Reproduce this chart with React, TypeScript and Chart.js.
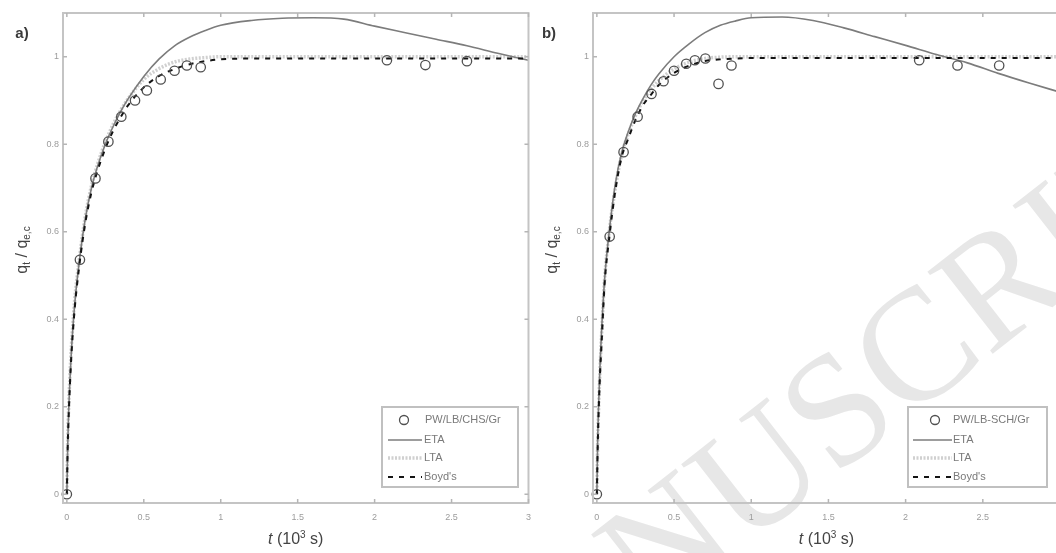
import React, { useEffect, useRef } from "react";
import { Chart, registerables } from "chart.js";

Chart.register(...registerables);

// ---------- data ----------
const modelTimes = [0, 0.005, 0.01, 0.02, 0.03, 0.05, 0.08, 0.12, 0.16, 0.2, 0.25, 0.3, 0.35, 0.4, 0.5, 0.6, 0.7, 0.8, 0.9, 1.0, 1.2, 1.4, 1.6, 1.8, 2.0, 2.2, 2.4, 2.6, 2.8, 3.0];

const etaA = [0, 0.10, 0.17, 0.26, 0.33, 0.43, 0.53, 0.63, 0.70, 0.75, 0.80, 0.84, 0.875, 0.905, 0.955, 0.995, 1.025, 1.045, 1.06, 1.072, 1.083, 1.088, 1.089, 1.086, 1.07, 1.055, 1.04, 1.025, 1.008, 0.992];
const ltaA = [0, 0.11, 0.18, 0.27, 0.34, 0.44, 0.535, 0.635, 0.705, 0.755, 0.805, 0.845, 0.878, 0.905, 0.948, 0.973, 0.988, 0.995, 0.998, 1.0, 1.0, 1.0, 1.0, 1.0, 1.0, 1.0, 1.0, 1.0, 1.0, 1.0];
const fullA = [0, 0.10, 0.16, 0.25, 0.32, 0.42, 0.52, 0.62, 0.69, 0.74, 0.79, 0.83, 0.862, 0.89, 0.93, 0.956, 0.972, 0.983, 0.99, 0.994, 0.996, 0.996, 0.996, 0.996, 0.996, 0.996, 0.996, 0.996, 0.996, 0.996];
const expTimesA = [0, 0.085, 0.186, 0.27, 0.354, 0.443, 0.52, 0.61, 0.70, 0.78, 0.87, 2.08, 2.33, 2.60];
const expValuesA = [0, 0.536, 0.722, 0.806, 0.863, 0.90, 0.923, 0.948, 0.968, 0.98, 0.976, 0.992, 0.981, 0.99];

const etaB = [0, 0.12, 0.19, 0.29, 0.37, 0.49, 0.60, 0.71, 0.78, 0.825, 0.87, 0.905, 0.935, 0.96, 1.0, 1.03, 1.055, 1.072, 1.082, 1.089, 1.091, 1.083, 1.066, 1.046, 1.026, 1.005, 0.986, 0.962, 0.94, 0.919];
const ltaB = [0, 0.11, 0.18, 0.28, 0.36, 0.49, 0.60, 0.70, 0.775, 0.82, 0.865, 0.90, 0.925, 0.945, 0.972, 0.988, 0.996, 0.999, 1.0, 1.0, 1.0, 1.0, 1.0, 1.0, 1.0, 1.0, 1.0, 1.0, 1.0, 1.0];
const fullB = [0, 0.10, 0.17, 0.27, 0.34, 0.48, 0.585, 0.695, 0.77, 0.81, 0.855, 0.89, 0.913, 0.935, 0.963, 0.98, 0.99, 0.994, 0.996, 0.997, 0.997, 0.997, 0.997, 0.997, 0.997, 0.997, 0.997, 0.997, 0.997, 0.997];
const expTimesB = [0, 0.083, 0.173, 0.264, 0.354, 0.432, 0.50, 0.579, 0.635, 0.703, 0.788, 0.872, 2.088, 2.336, 2.606];
const expValuesB = [0, 0.589, 0.782, 0.863, 0.915, 0.944, 0.968, 0.984, 0.992, 0.996, 0.938, 0.98, 0.992, 0.98, 0.98];

const xTickValues = [0, 0.5, 1, 1.5, 2, 2.5, 3];
const yTickValues = [0, 0.2, 0.4, 0.6, 0.8, 1];
const modelLabels = ["ETA", "LTA", "Boyd's"];
const sampleLabelA = "PW/LB/CHS/Gr";
const sampleLabelB = "PW/LB-SCH/Gr";
const panelTags = ["a)", "b)"];
const watermarkText = "ACCEPTED MANUSCRIPT";

// ---------- helpers ----------
const toPoints = (xs: number[], ys: number[]) => xs.map((x, i) => ({ x, y: ys[i] }));

type PanelCfg = {
  key: string;
  tag: string;
  sampleLabel: string;
  eta: number[];
  lta: number[];
  full: number[];
  expT: number[];
  expV: number[];
  canvasLeft: number;
  yAxisWidth: number;
  rightPad: number;
  legend: { x: number; y: number; w: number; h: number; markX: number; textX: number; lineX1: number; lineX2: number; lineTextX: number };
  tagPos: { x: number; y: number };
  yTitleX: number;
  watermark: boolean;
};

function drawRich(ctx: CanvasRenderingContext2D, parts: { t: string; size: number; dy: number; style?: string }[], family: string) {
  let w = 0;
  parts.forEach((p) => {
    ctx.font = `${p.style || ""} ${p.size}px ${family}`;
    w += ctx.measureText(p.t).width;
  });
  let x = -w / 2;
  parts.forEach((p) => {
    ctx.font = `${p.style || ""} ${p.size}px ${family}`;
    ctx.fillText(p.t, x, p.dy);
    x += ctx.measureText(p.t).width;
  });
}

function makePlugin(p: PanelCfg) {
  return {
    id: "deco" + p.key,
    beforeDraw(chart: any) {
      if (!p.watermark) return;
      const ctx = chart.ctx as CanvasRenderingContext2D;
      ctx.save();
      const ang = (-38 * Math.PI) / 180;
      ctx.font = "160px 'Liberation Serif', 'DejaVu Serif', serif";
      const pre = ctx.measureText("ACCEPTED MA").width;
      // baseline-left of the letter N (page coords)
      const nx = 652 - p.canvasLeft;
      const ny = 620;
      const sx = nx - Math.cos(ang) * pre;
      const sy = ny - Math.sin(ang) * pre;
      ctx.translate(sx, sy);
      ctx.rotate(ang);
      ctx.fillStyle = "#e7e7e7";
      ctx.textBaseline = "alphabetic";
      ctx.textAlign = "left";
      ctx.fillText(watermarkText, 0, 0);
      ctx.restore();
    },
    afterDraw(chart: any) {
      const ctx = chart.ctx as CanvasRenderingContext2D;
      const a = chart.chartArea;
      const xs = chart.scales.x;
      const ys = chart.scales.y;
      ctx.save();
      // frame
      ctx.strokeStyle = "#c4c4c4";
      ctx.lineWidth = 2;
      ctx.setLineDash([]);
      ctx.strokeRect(a.left, a.top, a.right - a.left, a.bottom - a.top);
      // inward ticks
      ctx.lineWidth = 1.5;
      ctx.strokeStyle = "#b5b5b5";
      xTickValues.forEach((v) => {
        const px = xs.getPixelForValue(v);
        ctx.beginPath();
        ctx.moveTo(px, a.bottom);
        ctx.lineTo(px, a.bottom - 4);
        ctx.moveTo(px, a.top);
        ctx.lineTo(px, a.top + 4);
        ctx.stroke();
      });
      yTickValues.forEach((v) => {
        const py = ys.getPixelForValue(v);
        ctx.beginPath();
        ctx.moveTo(a.left, py);
        ctx.lineTo(a.left + 4, py);
        ctx.moveTo(a.right, py);
        ctx.lineTo(a.right - 4, py);
        ctx.stroke();
      });

      // legend
      const L = p.legend;
      ctx.fillStyle = "#ffffff";
      ctx.fillRect(L.x, L.y, L.w, L.h);
      ctx.strokeStyle = "#c0c0c0";
      ctx.lineWidth = 2;
      ctx.strokeRect(L.x, L.y, L.w, L.h);
      const ds = chart.data.datasets;
      ctx.font = "11px 'Liberation Sans', Arial, sans-serif";
      ctx.textBaseline = "middle";
      ctx.textAlign = "left";
      const rowY = [L.y + 13, L.y + 33, L.y + 51, L.y + 70];
      ctx.beginPath();
      ctx.strokeStyle = ds[0].pointBorderColor;
      ctx.lineWidth = ds[0].pointBorderWidth;
      ctx.arc(L.markX, rowY[0], 4.5, 0, Math.PI * 2);
      ctx.stroke();
      ctx.fillStyle = "#7a7a7a";
      ctx.fillText(ds[0].label, L.textX, rowY[0]);
      const order = [2, 3, 1];
      order.forEach((di, k) => {
        const d = ds[di];
        const yy = rowY[k + 1];
        ctx.beginPath();
        ctx.strokeStyle = d.borderColor;
        ctx.lineWidth = d.borderWidth;
        ctx.setLineDash(d.borderDash || []);
        ctx.moveTo(L.lineX1, yy);
        ctx.lineTo(L.lineX2, yy);
        ctx.stroke();
        ctx.setLineDash([]);
        ctx.fillStyle = "#7a7a7a";
        ctx.fillText(d.label, L.lineTextX, yy);
      });

      // panel tag
      ctx.fillStyle = "#3a3a3a";
      ctx.font = "bold 15px 'Liberation Sans', Arial, sans-serif";
      ctx.textAlign = "center";
      ctx.fillText(p.tag, p.tagPos.x, p.tagPos.y);

      const fam = "'Liberation Sans', Arial, sans-serif";
      // x title
      ctx.save();
      ctx.translate((a.left + a.right) / 2, 540);
      ctx.fillStyle = "#444";
      ctx.textAlign = "left";
      ctx.textBaseline = "middle";
      drawRich(
        ctx,
        [
          { t: "t", size: 16, dy: 0, style: "italic" },
          { t: " (10", size: 16, dy: 0 },
          { t: "3", size: 10, dy: -5 },
          { t: " s)", size: 16, dy: 0 },
        ],
        fam
      );
      ctx.restore();

      // y title
      ctx.save();
      ctx.translate(p.yTitleX, 250);
      ctx.rotate(-Math.PI / 2);
      ctx.fillStyle = "#444";
      ctx.textAlign = "left";
      ctx.textBaseline = "middle";
      drawRich(
        ctx,
        [
          { t: "q", size: 16, dy: 0 },
          { t: "t", size: 10, dy: 4 },
          { t: " / ", size: 16, dy: 0 },
          { t: "q", size: 16, dy: 0 },
          { t: "e,c", size: 10, dy: 4 },
        ],
        fam
      );
      ctx.restore();
      ctx.restore();
    },
  };
}

function buildConfig(p: PanelCfg): any {
  return {
    type: "line",
    data: {
      datasets: [
        {
          label: p.sampleLabel,
          data: toPoints(p.expT, p.expV),
          showLine: false,
          pointRadius: 4.7,
          pointBorderColor: "#505050",
          pointBackgroundColor: "rgba(0,0,0,0)",
          pointBorderWidth: 1.3,
          clip: false,
        },
        {
          label: modelLabels[2],
          data: toPoints(modelTimes, p.full),
          borderColor: "#141414",
          borderWidth: 2,
          borderDash: [5, 6],
          pointRadius: 0,
          fill: false,
          cubicInterpolationMode: "monotone",
        },
        {
          label: modelLabels[0],
          data: toPoints(modelTimes, p.eta),
          borderColor: "#7c7c7c",
          borderWidth: 1.6,
          pointRadius: 0,
          fill: false,
          cubicInterpolationMode: "monotone",
        },
        {
          label: modelLabels[1],
          data: toPoints(modelTimes, p.lta),
          borderColor: "#d0d0d0",
          borderWidth: 3.5,
          borderDash: [2, 1.5],
          pointRadius: 0,
          fill: false,
          cubicInterpolationMode: "monotone",
        },
      ],
    },
    options: {
      animation: false,
      responsive: false,
      devicePixelRatio: 1,
      layout: { padding: { top: 13, right: p.rightPad, left: 0, bottom: 0 } },
      plugins: { legend: { display: false }, tooltip: { enabled: false } },
      scales: {
        x: {
          type: "linear",
          min: -0.025,
          max: 3,
          grid: { display: false, drawTicks: false, tickLength: 0 },
          border: { display: false },
          afterBuildTicks: (s: any) => {
            s.ticks = xTickValues.map((v) => ({ value: v }));
          },
          afterFit: (s: any) => {
            s.height = 50;
          },
          ticks: {
            autoSkip: false,
            maxRotation: 0,
            padding: 9,
            color: "#9c9c9c",
            font: { size: 9, family: "'Liberation Sans', Arial, sans-serif" },
            callback: (v: any) => String(v),
          },
        },
        y: {
          type: "linear",
          min: -0.02,
          max: 1.1,
          grid: { display: false, drawTicks: false, tickLength: 0 },
          border: { display: false },
          afterBuildTicks: (s: any) => {
            s.ticks = yTickValues.map((v) => ({ value: v }));
          },
          afterFit: (s: any) => {
            s.width = p.yAxisWidth;
          },
          ticks: {
            autoSkip: false,
            padding: 4,
            color: "#9c9c9c",
            font: { size: 9, family: "'Liberation Sans', Arial, sans-serif" },
            callback: (v: any) => String(v),
          },
        },
      },
    },
    plugins: [makePlugin(p)],
  };
}

const panels: PanelCfg[] = [
  {
    key: "a",
    tag: panelTags[0],
    sampleLabel: sampleLabelA,
    eta: etaA,
    lta: ltaA,
    full: fullA,
    expT: expTimesA,
    expV: expValuesA,
    canvasLeft: 0,
    yAxisWidth: 63,
    rightPad: 10,
    legend: { x: 382, y: 407, w: 136, h: 80, markX: 404, textX: 425, lineX1: 388, lineX2: 422, lineTextX: 424 },
    tagPos: { x: 22, y: 34 },
    yTitleX: 23,
    watermark: false,
  },
  {
    key: "b",
    tag: panelTags[1],
    sampleLabel: sampleLabelB,
    eta: etaB,
    lta: ltaB,
    full: fullB,
    expT: expTimesB,
    expV: expValuesB,
    canvasLeft: 540,
    yAxisWidth: 53,
    rightPad: 20,
    legend: { x: 368, y: 407, w: 139, h: 80, markX: 395, textX: 413, lineX1: 373, lineX2: 412, lineTextX: 413 },
    tagPos: { x: 9, y: 34 },
    yTitleX: 13,
    watermark: true,
  },
];

function Panel({ cfg }: { cfg: PanelCfg }) {
  const ref = useRef<HTMLCanvasElement | null>(null);
  useEffect(() => {
    if (!ref.current) return;
    const chart = new Chart(ref.current, buildConfig(cfg));
    return () => chart.destroy();
  }, [cfg]);
  return (
    <canvas
      ref={ref}
      width={540}
      height={553}
      style={{ position: "absolute", left: cfg.canvasLeft, top: 0, width: 540, height: 553, display: "block" }}
    />
  );
}

export default function App() {
  return (
    <div
      style={{
        position: "fixed",
        left: 0,
        top: 0,
        width: 1056,
        height: 553,
        overflow: "hidden",
        background: "#ffffff",
      }}
    >
      {panels.map((p) => (
        <Panel key={p.key} cfg={p} />
      ))}
    </div>
  );
}
